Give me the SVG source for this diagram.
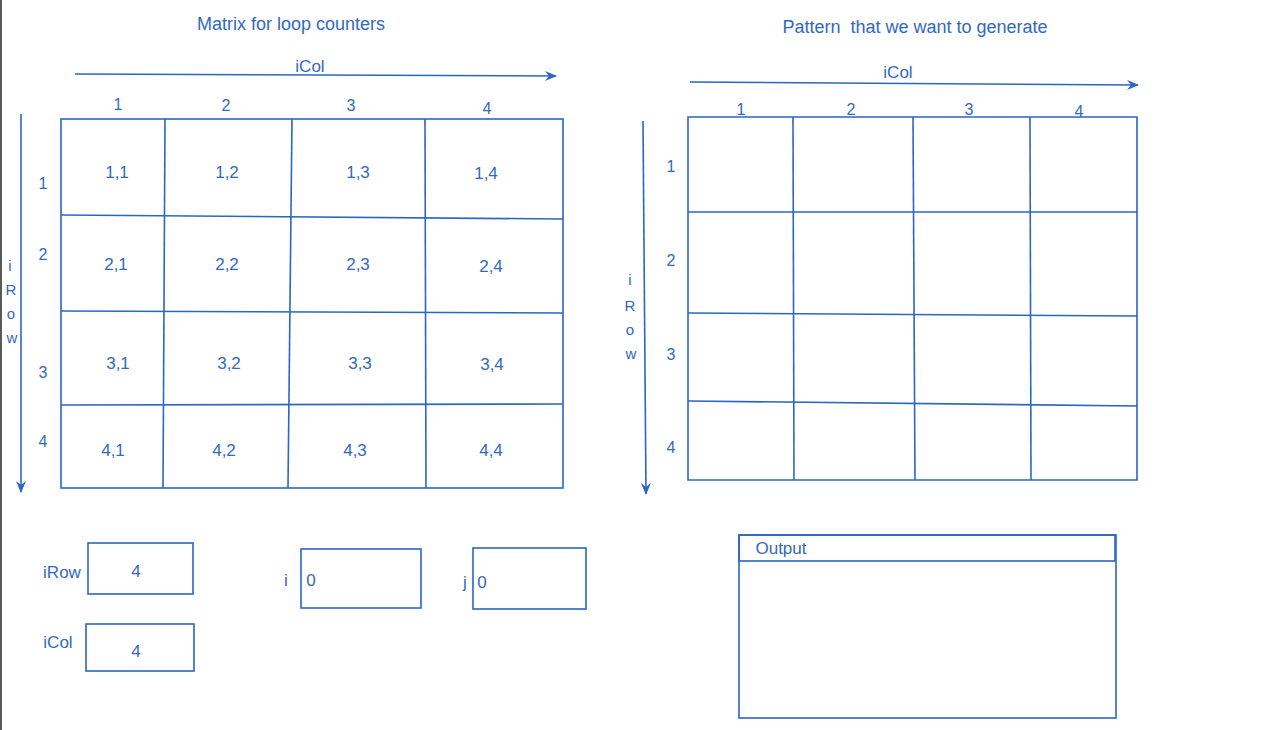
<svg xmlns="http://www.w3.org/2000/svg" width="1280" height="730" viewBox="0 0 1280 730">
<style>
.ln{stroke:#2a66c4;stroke-width:1.6;fill:none}
.t{font-family:"Liberation Sans",Arial,sans-serif;fill:#3169c2;text-anchor:middle;dominant-baseline:central}
.s17{font-size:17px}
.s16{font-size:16px}
.s15{font-size:15px}
.s18{font-size:18px}
</style>
<defs>
<marker id="ah" viewBox="0 0 12 10" refX="11" refY="5" markerWidth="12" markerHeight="10" markerUnits="userSpaceOnUse" orient="auto">
<path d="M0,0 L12,5 L0,10 L4,5 Z" fill="#2a66c4"/>
</marker>
</defs>
<rect x="0" y="0" width="1280" height="730" fill="#ffffff"/>
<line x1="1" y1="0" x2="1" y2="730" stroke="#5a5a5a" stroke-width="2"/>

<g id="titles">
<text class="t s18" x="291" y="24">Matrix for loop counters</text>
<text class="t s18" x="915" y="27" xml:space="preserve">Pattern  that we want to generate</text>
</g>

<g id="connectors">
<line class="ln" x1="75" y1="74" x2="556" y2="76" marker-end="url(#ah)"/>
<line class="ln" x1="21" y1="114" x2="21" y2="492" marker-end="url(#ah)"/>
<line class="ln" x1="690" y1="82" x2="1138" y2="85" marker-end="url(#ah)"/>
<line class="ln" x1="643" y1="121" x2="646" y2="494" marker-end="url(#ah)"/>
</g>

<g id="left-axis-labels">
<text class="t s17" x="310" y="66">iCol</text>
<text class="t s16" x="118" y="104">1</text>
<text class="t s16" x="226" y="105">2</text>
<text class="t s16" x="351" y="105">3</text>
<text class="t s16" x="487" y="108">4</text>
<text class="t s16" x="43" y="183">1</text>
<text class="t s16" x="43" y="254">2</text>
<text class="t s16" x="43" y="372">3</text>
<text class="t s16" x="43" y="441">4</text>
<text class="t s15" x="10" y="265">i</text>
<text class="t s15" x="11" y="289">R</text>
<text class="t s15" x="11" y="313">o</text>
<text class="t s15" x="12" y="337">w</text>
</g>

<g id="left-matrix">
<rect class="ln" x="61" y="119" width="502" height="369"/>
<line class="ln" x1="165" y1="119" x2="163" y2="488"/>
<line class="ln" x1="292" y1="119" x2="288" y2="488"/>
<line class="ln" x1="425" y1="119" x2="426" y2="488"/>
<line class="ln" x1="61" y1="215" x2="563" y2="219"/>
<line class="ln" x1="61" y1="311" x2="563" y2="313"/>
<line class="ln" x1="61" y1="405" x2="563" y2="404"/>
<text class="t s17" x="117" y="172">1,1</text>
<text class="t s17" x="227" y="172">1,2</text>
<text class="t s17" x="358" y="172">1,3</text>
<text class="t s17" x="486" y="173">1,4</text>
<text class="t s17" x="116" y="264">2,1</text>
<text class="t s17" x="227" y="264">2,2</text>
<text class="t s17" x="358" y="264">2,3</text>
<text class="t s17" x="491" y="266">2,4</text>
<text class="t s17" x="118" y="363">3,1</text>
<text class="t s17" x="229" y="363">3,2</text>
<text class="t s17" x="360" y="363">3,3</text>
<text class="t s17" x="492" y="364">3,4</text>
<text class="t s17" x="113" y="450">4,1</text>
<text class="t s17" x="224" y="450">4,2</text>
<text class="t s17" x="355" y="450">4,3</text>
<text class="t s17" x="491" y="450">4,4</text>
</g>

<g id="right-axis-labels">
<text class="t s17" x="898" y="72">iCol</text>
<text class="t s16" x="741" y="109">1</text>
<text class="t s16" x="851" y="109">2</text>
<text class="t s16" x="969" y="109">3</text>
<text class="t s16" x="1079" y="111">4</text>
<text class="t s16" x="671" y="166">1</text>
<text class="t s16" x="671" y="260">2</text>
<text class="t s16" x="671" y="354">3</text>
<text class="t s16" x="671" y="447">4</text>
<text class="t s15" x="630" y="279">i</text>
<text class="t s15" x="630" y="305">R</text>
<text class="t s15" x="630" y="329">o</text>
<text class="t s15" x="631" y="353">w</text>
</g>

<g id="right-matrix">
<path class="ln" d="M688,117 L1137,117 L1137,480 L688,480 Z"/>
<line class="ln" x1="793" y1="117" x2="794" y2="480"/>
<line class="ln" x1="913" y1="117" x2="915" y2="480"/>
<line class="ln" x1="1030" y1="117" x2="1031" y2="480"/>
<line class="ln" x1="688" y1="212" x2="1137" y2="212"/>
<line class="ln" x1="688" y1="313" x2="1137" y2="316"/>
<line class="ln" x1="688" y1="401" x2="1137" y2="406"/>
</g>

<g id="irow-box">
<text class="t s17" x="62" y="572">iRow</text>
<rect class="ln" x="88" y="543" width="105" height="51"/>
<text class="t s17" x="136" y="571">4</text>
</g>
<g id="icol-box">
<text class="t s17" x="58" y="642">iCol</text>
<rect class="ln" x="86" y="624" width="108" height="47"/>
<text class="t s17" x="136" y="651">4</text>
</g>
<g id="i-box">
<text class="t s17" x="286" y="580">i</text>
<rect class="ln" x="301" y="549" width="120" height="59"/>
<text class="t s17" x="311" y="580">0</text>
</g>
<g id="j-box">
<text class="t s17" x="465" y="582">j</text>
<rect class="ln" x="473" y="548" width="113" height="61"/>
<text class="t s17" x="482" y="582">0</text>
</g>
<g id="output-box">
<rect class="ln" x="739" y="535" width="377" height="183"/>
<rect class="ln" x="739" y="535" width="376" height="26" stroke-width="2.2"/>
<text class="t s17" x="781" y="548">Output</text>
</g>
</svg>
